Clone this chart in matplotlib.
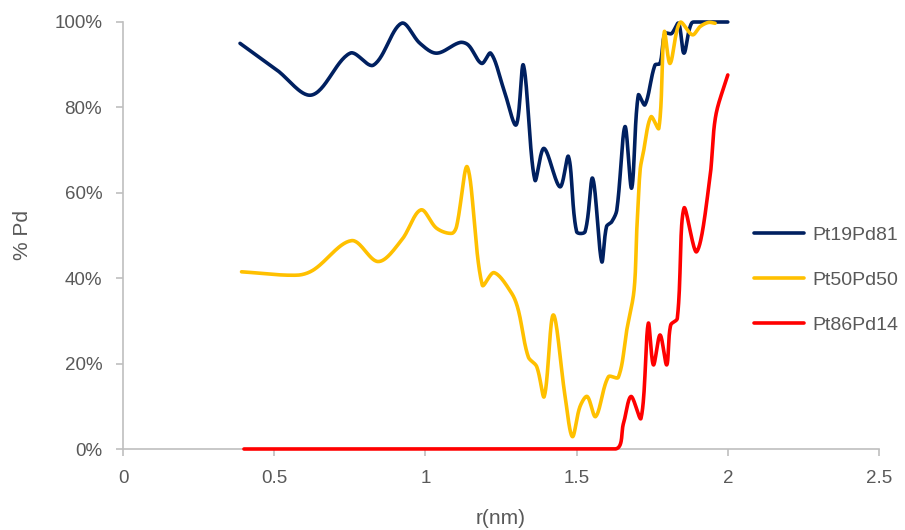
import numpy as np
import matplotlib
matplotlib.use("Agg")
import matplotlib.pyplot as plt
from matplotlib.ticker import PercentFormatter

# ---- data ----
blue_x = [0.387, 0.508, 0.624, 0.751, 0.828, 0.921, 0.982, 1.037, 1.114, 1.142, 1.186, 1.216,
          1.258, 1.300, 1.324, 1.362, 1.392, 1.445, 1.473, 1.500, 1.528, 1.553, 1.583, 1.599,
          1.616, 1.633, 1.660, 1.682, 1.704, 1.726, 1.759, 1.776, 1.792, 1.814, 1.837, 1.855,
          1.880, 1.910, 2.000]
blue_y = [95.0, 88.8, 82.9, 92.7, 89.9, 99.7, 95.0, 92.7, 95.2, 94.6, 90.3, 92.7,
          84.5, 75.9, 89.9, 63.0, 70.4, 61.4, 68.5, 50.9, 50.9, 63.4, 43.9, 52.1,
          53.2, 56.0, 75.5, 61.1, 82.9, 80.6, 89.9, 90.3, 97.3, 97.3, 99.7, 92.7,
          99.7, 100.0, 100.0]

yellow_x = [0.392, 0.574, 0.629, 0.756, 0.844, 0.921, 0.985, 1.037, 1.087, 1.103, 1.139, 1.188,
            1.227, 1.285, 1.307, 1.340, 1.368, 1.393, 1.423, 1.462, 1.486, 1.511, 1.535, 1.563,
            1.605, 1.638, 1.666, 1.690, 1.699, 1.710, 1.720, 1.746, 1.772, 1.790, 1.809, 1.842,
            1.883, 1.908, 1.936, 1.958]
yellow_y = [41.5, 40.7, 41.9, 48.8, 43.9, 48.9, 56.0, 51.7, 50.5, 52.1, 66.0, 38.4,
            41.3, 36.5, 32.6, 21.6, 19.3, 12.3, 31.4, 12.3, 2.9, 9.9, 12.3, 7.6,
            16.9, 16.8, 27.9, 37.2, 51.3, 65.3, 69.2, 77.8, 75.1, 97.7, 90.3, 99.9,
            97.0, 98.9, 99.9, 99.7]

red_x = [0.400, 1.627, 1.655, 1.680, 1.713, 1.737, 1.754, 1.776, 1.798, 1.811, 1.833,
         1.855, 1.897, 1.940, 1.960, 2.000]
red_y = [0.0, 0.0, 6.0, 12.3, 7.2, 29.4, 19.7, 26.7, 19.7, 29.0, 30.6,
         56.4, 46.2, 63.0, 78.0, 87.6]

series_names = ["Pt19Pd81", "Pt50Pd50", "Pt86Pd14"]
series_colors = ["#002060", "#FFC000", "#FF0000"]

x_ticks = [0, 0.5, 1, 1.5, 2, 2.5]
x_tick_labels = ["0", "0.5", "1", "1.5", "2", "2.5"]
y_ticks = [0, 20, 40, 60, 80, 100]


def smooth(ax, x, y, n=30):
    """Smoothed-line rendering (chordal Catmull-Rom Bezier through the points,
    computed in display space so the curve never loops)."""
    pts = ax.transData.transform(np.column_stack([x, y]).astype(float))
    m = len(pts)
    d = np.linalg.norm(np.diff(pts, axis=0), axis=1)
    tang = np.zeros_like(pts)
    for i in range(m):
        if i == 0:
            tang[i] = (pts[1] - pts[0]) / max(d[0], 1e-9)
        elif i == m - 1:
            tang[i] = (pts[-1] - pts[-2]) / max(d[-1], 1e-9)
        else:
            tang[i] = (pts[i + 1] - pts[i - 1]) / max(d[i - 1] + d[i], 1e-9)
    t = np.linspace(0, 1, n, endpoint=False)[:, None]
    out = []
    for i in range(m - 1):
        p1, p2 = pts[i], pts[i + 1]
        c1 = p1 + tang[i] * d[i] / 3.0
        c2 = p2 - tang[i + 1] * d[i] / 3.0
        seg = ((1 - t) ** 3) * p1 + 3 * ((1 - t) ** 2) * t * c1 + 3 * (1 - t) * t ** 2 * c2 + t ** 3 * p2
        out.append(seg)
    out.append(pts[-1][None, :])
    out = ax.transData.inverted().transform(np.vstack(out))
    return out[:, 0], np.clip(out[:, 1], 0, 100)


plt.rcParams['font.family'] = ['Liberation Sans', 'DejaVu Sans']
text_color = "#595959"
axis_color = "#BFBFBF"

fig = plt.figure(figsize=(9.05, 5.30), dpi=100)
ax = fig.add_axes([123 / 905, (530 - 449) / 530, (879 - 123) / 905, (449 - 22) / 530])
ax.set_xlim(0, 2.5)
ax.set_ylim(0, 100)

for xs, ys, name, col in zip([blue_x, yellow_x, red_x], [blue_y, yellow_y, red_y],
                             series_names, series_colors):
    sx, sy = smooth(ax, xs, ys)
    ax.plot(sx, sy, color=col, lw=2.6, label=name, solid_capstyle='round',
            solid_joinstyle='round', clip_on=False, zorder=3)

ax.set_xticks(x_ticks)
ax.set_xticklabels(x_tick_labels)
ax.set_yticks(y_ticks)
ax.yaxis.set_major_formatter(PercentFormatter(decimals=0))

for side in ["top", "right"]:
    ax.spines[side].set_visible(False)
for side in ["left", "bottom"]:
    ax.spines[side].set_color(axis_color)
    ax.spines[side].set_linewidth(1.2)
    ax.spines[side].set_zorder(1)

ax.tick_params(axis='both', colors=axis_color, labelcolor=text_color, labelsize=13.5,
               length=5, width=1.2, direction='out')
ax.tick_params(axis='y', pad=10)
ax.tick_params(axis='x', pad=10)

ax.set_xlabel("r(nm)", fontsize=15, color=text_color)
ax.set_ylabel("% Pd", fontsize=15, color=text_color)
ax.xaxis.set_label_coords(0.5, -0.14)
ax.yaxis.set_label_coords(-0.12, 0.5)

leg = fig.legend(loc='center left', bbox_to_anchor=(746 / 905, (530 - 280) / 530),
                 frameon=False, fontsize=14, handlelength=2.6, labelspacing=1.4,
                 handletextpad=0.4, borderaxespad=0)
for txt in leg.get_texts():
    txt.set_color(text_color)

fig.savefig("out.png", dpi=100)
